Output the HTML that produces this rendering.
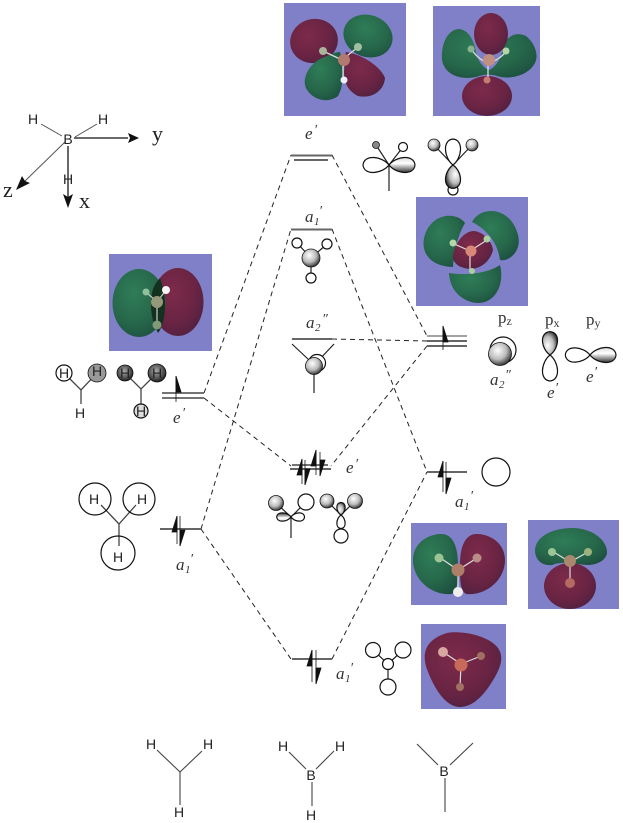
<!DOCTYPE html>
<html>
<head>
<meta charset="utf-8">
<style>
html,body{margin:0;padding:0;background:#fff}
svg{display:block;filter:blur(.3px)}
.t{font-family:"Liberation Serif",serif;fill:#333}
.i{font-style:italic;font-size:17px}
.s{font-family:"Liberation Sans",sans-serif;fill:#222;font-size:14px;text-anchor:middle}
.d{stroke:#222;stroke-width:1;stroke-dasharray:5 4;fill:none}
.l{stroke:#666;stroke-width:2;fill:none}
.k{stroke:#222;stroke-width:1.2;fill:none}
.b{stroke:#444;stroke-width:1.1;fill:none}
.w{fill:#fff;stroke:#111;stroke-width:1.2}
.g{fill:url(#ball);stroke:#111;stroke-width:.8}
.dk{fill:url(#dball);stroke:#111;stroke-width:.8}
.gr{fill:url(#gr)}
.ma{fill:url(#ma)}
.p{fill:#8080c8}
</style>
</head>
<body>
<svg width="623" height="823" viewBox="0 0 623 823" xmlns="http://www.w3.org/2000/svg">
<defs>
<radialGradient id="ball" cx=".4" cy=".35" r=".7"><stop offset="0" stop-color="#fff"/><stop offset=".55" stop-color="#bbb"/><stop offset="1" stop-color="#222"/></radialGradient>
<radialGradient id="dball" cx=".45" cy=".4" r=".65"><stop offset="0" stop-color="#aaa"/><stop offset=".6" stop-color="#555"/><stop offset="1" stop-color="#111"/></radialGradient>
<linearGradient id="lobeS" x1="0" y1="0" x2="0" y2="1"><stop offset="0" stop-color="#ddd"/><stop offset=".4" stop-color="#fff"/><stop offset="1" stop-color="#333"/></linearGradient>
<radialGradient id="gr" cx=".4" cy=".35" r=".75"><stop offset="0" stop-color="#2f7d57"/><stop offset=".6" stop-color="#26674a"/><stop offset="1" stop-color="#1c4f3f"/></radialGradient>
<radialGradient id="ma" cx=".4" cy=".35" r=".75"><stop offset="0" stop-color="#7d2a4a"/><stop offset=".6" stop-color="#6a2443"/><stop offset="1" stop-color="#4e2040"/></radialGradient>
<path id="lobe" vector-effect="non-scaling-stroke" stroke-width="1.2" d="M0 0C7 -9 25 -11 26 0C25 11 7 9 0 0Z"/>
</defs>

<!-- MO panels -->
<g>
<rect class="p" x="284" y="3" width="122" height="113"/>
<ellipse class="ma" cx="314" cy="41" rx="24" ry="22" transform="rotate(-15 314 41)"/>
<ellipse class="gr" cx="368" cy="36" rx="25" ry="21" transform="rotate(20 368 36)"/>
<path class="gr" d="M340 52C343 62 345 85 338 96C328 104 312 100 306 88C301 76 312 62 322 58C330 55 335 52 340 52Z"/>
<path class="ma" d="M346 52C360 54 380 65 385 78C384 92 370 99 358 96C350 92 344 85 344 72C345 62 344 56 346 52Z"/>
<path d="M323 51L342 60L358 47M343 60V80" stroke="#ddd" stroke-width="1.300" fill="none"/>
<circle cx="323" cy="51" r="4" fill="#a9b49a"/><circle cx="358" cy="47" r="4" fill="#9fc0a0"/><circle cx="344" cy="60" r="6" fill="#b07a70"/><circle cx="344" cy="80" r="3.500" fill="#eef"/>
</g>
<g>
<rect class="p" x="433" y="6" width="107" height="110"/>
<path class="gr" d="M458 29C468 29 474 40 476 52C478 62 484 68 489 70C494 68 500 62 503 48C506 36 516 31 526 36C536 44 540 58 533 66C526 76 508 80 497 76C490 74 484 74 476 77C462 80 445 76 442 60C441 46 446 31 458 29Z"/>
<ellipse class="ma" cx="491" cy="34" rx="17" ry="21"/>
<ellipse class="ma" cx="487" cy="96" rx="25" ry="20"/>
<path d="M471 49C476 56 482 62 489 62C496 62 502 56 507 51M488 62V80" stroke="#ddd" stroke-width="1.300" fill="none"/>
<circle cx="471" cy="49" r="3.500" fill="#8db28f"/><circle cx="506" cy="51" r="3.500" fill="#b5d6a8"/><circle cx="489" cy="60" r="6" fill="#c09080"/><circle cx="487" cy="80" r="3.500" fill="#c77c72"/>
</g>
<g>
<rect class="p" x="416" y="197" width="112" height="109"/>
<path class="gr" d="M465 223C458 213 438 212 428 228C418 245 424 266 453 267C454 250 458 235 465 223Z"/>
<path class="gr" d="M472 222C480 206 510 205 518 235C522 250 510 262 500 260C498 244 488 230 472 222Z"/>
<path class="gr" d="M449 273C450 295 468 303 478 303C495 303 505 285 500 265C490 272 470 276 449 273Z"/>
<path class="ma" d="M474 231C484 232 492 242 493 250C490 262 480 269 470 269C458 268 452 262 453 255C455 243 464 231 474 231Z"/>
<path d="M452 243L470 251L487 240M470 251V270" stroke="#ddd" stroke-width="1.200" fill="none"/>
<circle cx="453" cy="243" r="3.500" fill="#b5d6a8"/><circle cx="487" cy="239" r="3.500" fill="#a8d0a0"/><circle cx="471" cy="251" r="5.500" fill="#d88878"/><circle cx="472" cy="271" r="3" fill="#a8d0a0"/>
</g>
<g>
<rect class="p" x="109" y="254" width="103" height="97"/>
<ellipse class="ma" cx="178" cy="302" rx="25.500" ry="34"/>
<ellipse class="gr" cx="139" cy="303" rx="26.500" ry="34"/>
<path d="M160 278C164 290 165 300 165 305C165 318 162 328 158 333C152 322 151 312 151 302C151 292 154 284 160 278Z" fill="#14301f"/>
<path d="M146 292L157 302L166 290M157 302V325" stroke="#ccc" stroke-width="1.200" fill="none"/>
<circle cx="146" cy="292" r="3.500" fill="#8fc09a"/><circle cx="166" cy="290" r="4" fill="#f4f4f4"/><circle cx="157" cy="302" r="6" fill="#96987a"/><circle cx="157" cy="325" r="4.500" fill="#809a78"/>
</g>
<g>
<rect class="p" x="411" y="523" width="96" height="82"/>
<path class="gr" d="M440 534C452 533 458 545 458 565C458 580 458 590 452 594C432 596 413 580 413 560C413 545 425 535 440 534Z"/>
<path class="ma" d="M478 534C466 533 460 545 460 565C460 580 460 590 466 594C486 596 505 580 505 560C505 545 493 535 478 534Z"/>
<path d="M439 557L458 570L477 558M458 570V592" stroke="#ddd" stroke-width="1.300" fill="none"/>
<circle cx="439" cy="558" r="4.500" fill="#9cc495"/><circle cx="477" cy="558" r="4.500" fill="#b98c88"/><circle cx="458" cy="570" r="6.500" fill="#ad7f68"/><circle cx="458" cy="592" r="5" fill="#eee"/>
</g>
<g>
<rect class="p" x="528" y="520" width="91" height="89"/>
<ellipse class="ma" cx="570" cy="586" rx="26" ry="23"/>
<path class="gr" d="M535 550C536 535 555 528 572 528C592 528 607 540 607 552C607 560 597 565 588 565C578 565 565 560 552 565C542 566 535 560 535 550Z"/>
<path d="M552 551L570 562L588 552M570 562V583" stroke="#ddd" stroke-width="1.200" fill="none"/>
<circle cx="552" cy="552" r="4" fill="#9cc495"/><circle cx="588" cy="552" r="4" fill="#9cb27d"/><circle cx="570" cy="561" r="6" fill="#a9886d"/><circle cx="570" cy="583" r="5" fill="#b56a62"/>
</g>
<g>
<rect class="p" x="421" y="624" width="85" height="85"/>
<path class="ma" d="M447 633C465 630 490 637 498 648C505 658 500 670 490 685C480 700 470 707 460 707C447 707 436 692 428 672C421 655 424 640 447 633Z"/>
<path d="M443 652L461 664L481 656M461 664L460 687" stroke="#ddd" stroke-width="1.200" fill="none"/>
<circle cx="443" cy="652" r="5" fill="#d8a8a0"/><circle cx="481" cy="656" r="4" fill="#a07060"/><circle cx="461" cy="665" r="6.500" fill="#c86a5a"/><circle cx="460" cy="687" r="4" fill="#a07060"/>
</g>

<!-- axes -->
<path d="M74 138H128" stroke="#111" stroke-width="1.300"/><path d="M139 138L128 133L130 138L128 143Z" fill="#111"/>
<path d="M68 146V198" stroke="#444" stroke-width="1.600"/><path d="M68 208L63 194L68 197L73 194Z" fill="#111"/>
<path d="M65 142L24 182" stroke="#555" stroke-width="1"/><path d="M16 190L22 176L25 181L30 183Z" fill="#111"/>
<path d="M41 124L62 136M97 124L75 137" stroke="#555" stroke-width="1"/>
<text class="s" x="33" y="124">H</text><text class="s" x="103" y="124">H</text><text class="s" x="68" y="144">B</text><text class="s" x="68" y="184">H</text>
<text class="t" x="152" y="141" font-size="22" style="fill:#222">y</text>
<text class="t" x="79" y="208" font-size="22" style="fill:#222">x</text>
<text class="t" x="3" y="197" font-size="22" style="fill:#222">z</text>

<!-- connectors -->
<path class="d" d="M204 393L291 155M204 398L291 466M201 529L291 229M201 529L291 659M332 155L427 336M332 229L427 472M332 339L427 341M427 346L331 466M332 659L427 472"/>

<!-- levels -->
<path class="l" d="M291 155.500H332M294 160H328M291 229.500H332M292 339H332M292 659H332"/>
<path class="b" d="M427 336H467"/>
<path class="l" d="M427 341H467M427 346H467"/>
<path class="k" d="M162 393H204M162 398H204"/>
<path class="l" d="M160 529H201M427 472H467"/>
<path class="k" d="M292 465H328"/>
<path class="l" d="M290 469H331"/>

<!-- electrons -->
<g fill="#111" stroke="#111" stroke-width=".8">
<path d="M176 402V376" fill="none"/><path d="M176 376L181 392H176Z"/>
<path d="M443 350V326" fill="none"/><path d="M443 326L448 342H443Z"/>
<path d="M177 516V544" fill="none"/><path d="M177 516L172 532H177Z"/>
<path d="M180 516V546" fill="none"/><path d="M180 546L185 530H180Z"/>
<path d="M302 459V484" fill="none"/><path d="M302 459L297 475H302Z"/>
<path d="M305 460V485" fill="none"/><path d="M305 485L310 469H305Z"/>
<path d="M316 450V475" fill="none"/><path d="M316 450L311 466H316Z"/>
<path d="M320 452V476" fill="none"/><path d="M320 476L325 460H320Z"/>
<path d="M443 461V492" fill="none"/><path d="M443 461L438 477H443Z"/>
<path d="M446 462V494" fill="none"/><path d="M446 494L451 478H446Z"/>
<path d="M312 650V682" fill="none"/><path d="M312 650L307 666H312Z"/>
<path d="M316 650V684" fill="none"/><path d="M316 684L321 668H316Z"/>
</g>

<!-- level labels -->
<g class="t i">
<text x="305" y="139">e</text><text x="314" y="134" font-size="14">′</text>
<text x="305" y="222">a</text><text x="314" y="225" font-size="11">1</text><text x="319" y="215" font-size="14">′</text>
<text x="306" y="328">a</text><text x="315" y="331" font-size="11">2</text><text x="322" y="323" font-size="14">″</text>
<text x="173" y="423">e</text><text x="182" y="417" font-size="14">′</text>
<text x="176" y="570">a</text><text x="185" y="573" font-size="11">1</text><text x="190" y="563" font-size="14">′</text>
<text x="346" y="473">e</text><text x="355" y="468" font-size="14">′</text>
<text x="455" y="507">a</text><text x="464" y="510" font-size="11">1</text><text x="470" y="500" font-size="14">′</text>
<text x="336" y="679">a</text><text x="345" y="682" font-size="11">1</text><text x="350" y="672" font-size="14">′</text>
<text x="490" y="385">a</text><text x="499" y="388" font-size="11">2</text><text x="505" y="379" font-size="14">″</text>
<text x="547" y="398">e</text><text x="555" y="392" font-size="14">′</text>
<text x="586" y="382">e</text><text x="594" y="376" font-size="14">′</text>
</g>
<g class="t" font-size="17">
<text x="498" y="323">p<tspan font-size="12" dy="2">z</tspan></text>
<text x="545" y="325">p<tspan font-size="12" dy="2">x</tspan></text>
<text x="586" y="325">p<tspan font-size="12" dy="2">y</tspan></text>
</g>

<!-- top e' orbitals -->
<g>
<path class="k" d="M376 145L389 165L403 147M389 165V191"/>
<use href="#lobe" transform="translate(389 165) rotate(180)" fill="#fff" stroke="#111"/>
<use href="#lobe" transform="translate(389 165)" fill="url(#lobeS)" stroke="#111"/>
<circle cx="376" cy="145" r="3.500" class="dk" style="fill:#888"/><circle cx="403" cy="147" r="4.500" class="w"/>
<path class="k" d="M434 145L453 165L472 145"/>
<circle cx="453" cy="190" r="5" class="w"/>
<use href="#lobe" transform="translate(453 165) rotate(-90)" fill="#fff" stroke="#111"/>
<use href="#lobe" transform="translate(453 165) rotate(90) scale(.9 1)" fill="url(#ball)" stroke="#111"/>
<circle cx="434" cy="145" r="6" class="g"/><circle cx="472" cy="145" r="6" class="g"/>
</g>
<!-- a1' high -->
<g>
<path class="k" d="M297 243L311 258L327 244M311 258V278"/>
<circle cx="297" cy="243" r="5" class="w"/><circle cx="327" cy="244" r="5" class="w"/><circle cx="311" cy="278" r="5" class="w"/>
<circle cx="311" cy="258" r="9" class="g"/>
</g>
<!-- a2'' -->
<g>
<path class="k" d="M292 344L309 360M334 344L319 360M314 373V393"/>
<circle cx="317" cy="363" r="8.500" class="w"/>
<circle cx="314" cy="366" r="8.500" class="g"/>
</g>
<!-- right p orbitals -->
<circle cx="503" cy="350" r="13" class="w"/>
<circle cx="500" cy="354" r="11.500" class="g"/>
<use href="#lobe" transform="translate(550 355) rotate(90)" fill="#fff" stroke="#111"/>
<use href="#lobe" transform="translate(550 355) rotate(-90) scale(.9 1)" fill="url(#ball)" stroke="#111"/>
<use href="#lobe" transform="translate(590 355) rotate(180) scale(.95 .95)" fill="#fff" stroke="#111"/>
<use href="#lobe" transform="translate(590 355)" fill="url(#lobeS)" stroke="#111"/>

<!-- left fragments -->
<g>
<path class="b" style="stroke-width:1.300" d="M64 373L81 390L97 373M81 390V404"/>
<circle cx="64" cy="373" r="8" class="w"/><circle cx="97" cy="373" r="9" class="dk" style="fill:#999"/>
<text class="s" x="64" y="378">H</text><text class="s" x="97" y="376">H</text><text class="s" x="80" y="418">H</text>
<path class="b" style="stroke-width:1.300" d="M125 373L141 389L157 373M141 389V411"/>
<circle cx="125" cy="373" r="8" class="dk"/><circle cx="157" cy="373" r="9" class="dk"/><circle cx="141" cy="411" r="7" class="w" style="fill:#ddd"/>
<text class="s" x="125" y="378">H</text><text class="s" x="157" y="378">H</text><text class="s" x="141" y="416">H</text>
</g>
<g>
<path class="b" style="stroke-width:1.300" d="M101 505L119 524L136 505M119 524V546"/>
<circle cx="95" cy="499" r="16" fill="none" stroke="#111" stroke-width="1.200"/>
<circle cx="139" cy="499" r="16" fill="none" stroke="#111" stroke-width="1.200"/>
<circle cx="118" cy="553" r="17" fill="none" stroke="#111" stroke-width="1.200"/>
<text class="s" x="94" y="504">H</text><text class="s" x="142" y="504">H</text><text class="s" x="118" y="562">H</text>
</g>

<!-- mid e' orbitals -->
<g>
<path class="k" d="M276 503L291 517L306 502M291 517V538"/>
<circle cx="276" cy="503" r="7.500" class="g"/><circle cx="306" cy="502" r="8" class="w"/>
<use href="#lobe" transform="translate(291 517) rotate(180) scale(.55 .55)" fill="url(#lobeS)" stroke="#111"/>
<use href="#lobe" transform="translate(291 517) scale(.52 .55)" fill="#fff" stroke="#111"/>
<path class="k" d="M327 501L341 515L355 501"/>
<circle cx="341" cy="536" r="7" class="w"/>
<use href="#lobe" transform="translate(341 515) rotate(90) scale(.52 .55)" fill="#fff" stroke="#111"/>
<use href="#lobe" transform="translate(341 515) rotate(-90) scale(.48 .55)" fill="url(#ball)" stroke="#111"/>
<circle cx="327" cy="501" r="7" class="g"/><circle cx="355" cy="501" r="7.500" class="g"/>
</g>
<circle cx="496" cy="472" r="14" fill="none" stroke="#111" stroke-width="1.200"/>

<!-- lowest a1' -->
<g>
<path class="k" d="M373 650L388 664L403 650M388 664V687"/>
<circle cx="373" cy="650" r="7.500" class="w"/><circle cx="403" cy="650" r="8" class="w"/><circle cx="388" cy="687" r="8" class="w"/><circle cx="388" cy="664" r="5.500" class="w"/>
</g>

<!-- bottom structures -->
<path class="b" d="M157 750L180 772L202 751M180 772V805"/>
<text class="s" x="151" y="749">H</text><text class="s" x="208" y="749">H</text><text class="s" x="179" y="817">H</text>
<path class="b" d="M289 752L306 769M334 751L316 769M312 782V806"/>
<text class="s" x="283" y="751">H</text><text class="s" x="340" y="751">H</text><text class="s" x="311" y="780">B</text><text class="s" x="311" y="820">H</text>
<path class="b" d="M417 744L438 765M473 743L450 765M445 778V812"/>
<text class="s" x="444" y="776">B</text>
</svg>
</body>
</html>
